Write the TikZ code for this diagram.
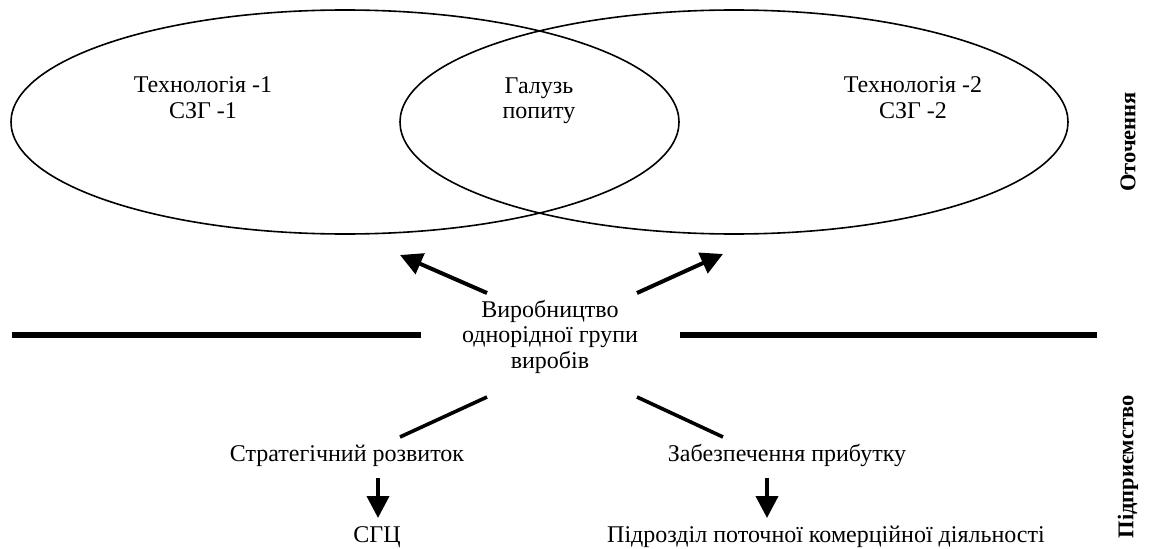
\documentclass[tikz,border=0pt]{standalone}
\usepackage{fontspec}
\setmainfont{Liberation Serif}
\usetikzlibrary{shapes.geometric,arrows.meta}
\begin{document}
\begin{tikzpicture}[x=1pt,y=-1pt,
  txt/.style={font=\fontsize{24}{25.5}\selectfont, inner sep=0pt, align=center},
  oval/.style={draw, ellipse, line width=1.6pt, minimum width=668pt, minimum height=224pt, inner sep=0pt},
  bar/.style={line width=6pt},
  link/.style={line width=3.6pt},
  arr/.style={line width=4pt, -{Triangle[width=22pt,length=22pt]}},
  side/.style={font=\fontsize{22.5}{24}\selectfont\bfseries, rotate=90, inner sep=0pt}]
\useasboundingbox (0,0) rectangle (1157,549);

% two overlapping fields of the environment
\node[oval] (left)  at (345,122) {};
\node[oval] (right) at (734,122) {};

\node[txt] (t1)  at (203,97.9)  {Технологія -1\\СЗГ -1};
\node[txt] (dem) at (539,100.7) {Галузь\\попиту};
\node[txt] (t2)  at (913,97.9)  {Технологія -2\\СЗГ -2};

% central product group
\node[txt] (prod) at (550,336.7) {Виробництво\\однорідної групи\\виробів};

% boundary between environment and enterprise
\coordinate (bl1) at (12,335);
\coordinate (bl2) at (421,335);
\coordinate (br1) at (680,335);
\coordinate (br2) at (1097,335);
\draw[bar] (bl1) -- (bl2);
\draw[bar] (br1) -- (br2);

% links from the product group
\coordinate (ul0) at (487,293);
\coordinate (ul1) at (400,255);
\coordinate (ur0) at (637,293);
\coordinate (ur1) at (723,254);
\coordinate (dl0) at (487,397);
\coordinate (dl1) at (400,437);
\coordinate (dr0) at (637,397);
\coordinate (dr1) at (723,437);
\draw[arr] (ul0) -- (ul1);
\draw[arr] (ur0) -- (ur1);
\draw[link] (dl0) -- (dl1);
\draw[link] (dr0) -- (dr1);

% enterprise level
\node[txt, anchor=base] (strat) at (347,461) {Стратегічний розвиток};
\node[txt, anchor=base] (profit) at (787,461) {Забезпечення прибутку};
\node[txt, anchor=base] (sgc) at (377,542) {СГЦ};
\node[txt, anchor=base] (unit) at (826,542) {Підрозділ поточної комерційної діяльності};

\coordinate (al0) at (378,478);
\coordinate (al1) at (378,518);
\coordinate (ar0) at (767,478);
\coordinate (ar1) at (767,518);
\draw[arr] (al0) -- (al1);
\draw[arr] (ar0) -- (ar1);

% side captions
\node[side] (env) at (1128,142) {Оточення};
\node[side] (ent) at (1128,467) {Підприємство};
\end{tikzpicture}
\end{document}
